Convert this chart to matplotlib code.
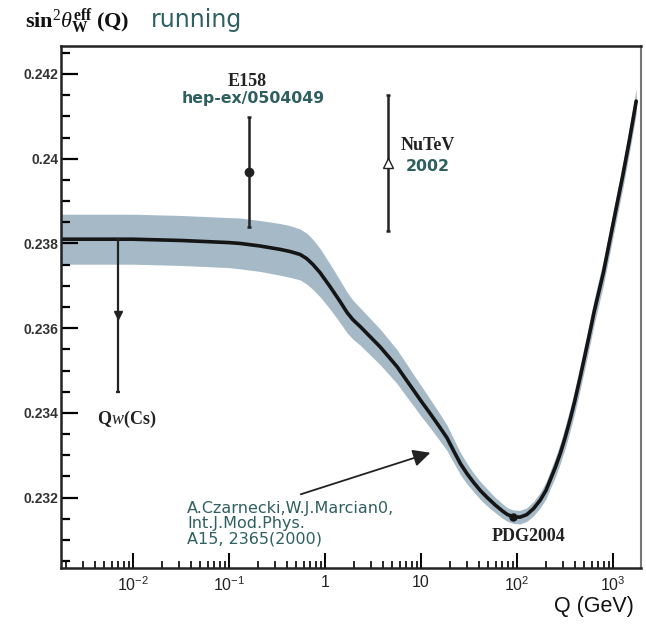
import numpy as np
import matplotlib
matplotlib.use("Agg")
import matplotlib.pyplot as plt
import matplotlib.ticker as ticker

plt.rcParams['mathtext.fontset'] = 'custom'
plt.rcParams['mathtext.rm'] = 'Liberation Serif'
plt.rcParams['mathtext.it'] = 'Liberation Serif:italic'
plt.rcParams['mathtext.bf'] = 'Liberation Serif:bold'
plt.rcParams['mathtext.sf'] = 'Liberation Sans'

# running sin^2 theta_W curve (log10 Q, value)
logq = [-2.75, -2.0, -1.5, -1.0, -0.885, -0.677, -0.469, -0.365, -0.26, -0.19,
        -0.125, -0.052, 0.052, 0.156, 0.229, 0.29, 0.365, 0.469, 0.573, 0.66,
        0.75, 0.83, 0.92, 1.0, 1.09, 1.18, 1.27, 1.34, 1.41, 1.48, 1.55, 1.62,
        1.69, 1.77, 1.85, 1.90, 1.96, 2.03, 2.10, 2.17, 2.24, 2.30, 2.35, 2.40,
        2.45, 2.50, 2.55, 2.60, 2.66, 2.71, 2.76, 2.80, 2.85, 2.90, 2.94, 3.02,
        3.10, 3.17, 3.24]
s2w = [0.23810, 0.23810, 0.23807, 0.23802, 0.23800, 0.23794, 0.23786, 0.23781,
       0.23774, 0.23764, 0.23750, 0.23731, 0.23698, 0.23663, 0.23637, 0.23620,
       0.23604, 0.23580, 0.23556, 0.23533, 0.23509, 0.23483, 0.23454, 0.23428,
       0.23400, 0.23371, 0.23341, 0.23310, 0.23280, 0.23256, 0.23235, 0.23216,
       0.23200, 0.23183, 0.23168, 0.23160, 0.23155, 0.23154, 0.23160, 0.23174,
       0.23194, 0.23217, 0.23245, 0.23273, 0.23305, 0.23342, 0.23383, 0.23428,
       0.23488, 0.23540, 0.23593, 0.23637, 0.23685, 0.23733, 0.23779, 0.23870,
       0.23960, 0.24045, 0.24136]
# half width of the theory band
band = [0.00059, 0.00059, 0.00059, 0.00059, 0.00060, 0.00060, 0.00061, 0.00061,
        0.00060, 0.00060, 0.00059, 0.00057, 0.00053, 0.00050, 0.00048, 0.00046,
        0.00044, 0.00043, 0.00042, 0.00041, 0.00040, 0.00039, 0.00037, 0.00036,
        0.00034, 0.00032, 0.00030, 0.00028, 0.00026, 0.00024, 0.00022, 0.00021,
        0.00020, 0.00018, 0.00017, 0.00016, 0.00016, 0.00016, 0.00016, 0.00017,
        0.00018, 0.00020, 0.00021, 0.00023, 0.00024, 0.00026, 0.00027, 0.00028,
        0.00029, 0.00030, 0.00030, 0.00030, 0.00030, 0.00030, 0.00030, 0.00030,
        0.00030, 0.00030, 0.00030]

# measurements
e158_q, e158_v, e158_err = 0.16, 0.23968, 0.0013
nutev_q, nutev_v, nutev_err = 4.5, 0.23990, 0.0016
qw_q, qw_v, qw_err = 0.007, 0.23630, 0.0018
pdg_q, pdg_v = 91.2, 0.23155

teal = '#2f5f60'
serif = 'Liberation Serif'
sans = 'Liberation Sans'

q = 10 ** np.array(logq)
y = np.array(s2w)
hw = np.array(band)

fig = plt.figure(figsize=(6.46, 6.36), dpi=100)
ax = fig.add_axes([0.0944, 0.1069, 0.8979, 0.8208])

ax.fill_between(q, y - hw, y + hw, color='#a5b9c7', lw=0, zorder=1)
ax.plot(q, y, color='#151515', lw=2.6, zorder=2, solid_capstyle='round')

ax.errorbar([e158_q], [e158_v], yerr=[e158_err], fmt='o', color='#222222',
            ms=6, elinewidth=1.8, capsize=1.5, capthick=1.8, zorder=3)
ax.errorbar([nutev_q], [nutev_v], yerr=[nutev_err], fmt='^', color='#222222',
            mfc='white', mec='#222222', ms=7, elinewidth=1.8, capsize=1.5,
            capthick=1.8, zorder=3)
ax.errorbar([qw_q], [qw_v], yerr=[qw_err], fmt='v', color='#222222',
            ms=6, elinewidth=1.6, capsize=1.5, capthick=1.6, zorder=3)
ax.plot([pdg_q], [pdg_v], 'o', color='#151515', ms=5, zorder=4)

ax.annotate('', xy=(13.3, 0.23308), xytext=(0.524, 0.23206),
            arrowprops=dict(arrowstyle='-|>', color='#222222', lw=1.3,
                            mutation_scale=26))

ax.text(0.154, 0.24183, 'E158', family=serif, weight='bold', fontsize=13,
        ha='center', va='center', color='#222222')
ax.text(0.178, 0.24143, 'hep-ex/0504049', family='DejaVu Sans', weight='bold',
        fontsize=11.3, ha='center', va='center', color=teal)
ax.text(11.8, 0.24030, 'NuTeV', family=serif, weight='bold', fontsize=13,
        ha='center', va='center', color='#222222')
ax.text(11.6, 0.23982, '2002', family='DejaVu Sans', weight='bold',
        fontsize=11.3, ha='center', va='center', color=teal)
ax.text(0.0086, 0.23384, 'Q$\\it{w}$(Cs)', family=serif, weight='bold',
        fontsize=13, ha='center', va='center', color='#222222')
ax.text(130, 0.23108, 'PDG2004', family=serif, weight='bold', fontsize=13,
        ha='center', va='center', color='#222222')
ax.text(0.0365, 0.23192, 'A.Czarnecki,W.J.Marcian0,\nInt.J.Mod.Phys.\nA15, 2365(2000)',
        family='DejaVu Sans', fontsize=11.5, ha='left', va='top', color=teal,
        linespacing=1.0)

ax.set_xscale('log')
ax.set_xlim(10 ** -2.75, 10 ** 3.29)
ax.set_ylim(0.23034, 0.24266)

ax.set_xticks([1e-2, 1e-1, 1, 10, 1e2, 1e3])
ax.set_xticklabels(['$\\mathsf{10^{-2}}$', '$\\mathsf{10^{-1}}$', '1', '10',
                    '$\\mathsf{10^{2}}$', '$\\mathsf{10^{3}}$'],
                   family=sans, fontsize=11.5, color='#222222')
ax.xaxis.set_minor_locator(ticker.LogLocator(base=10, subs=np.arange(2, 10), numticks=20))
ax.xaxis.set_minor_formatter(ticker.NullFormatter())

ax.set_yticks([0.232, 0.234, 0.236, 0.238, 0.24, 0.242])
ax.set_yticklabels(['0.232', '0.234', '0.236', '0.238', '0.24', '0.242'],
                   family=sans, weight='bold', fontsize=10, color='#333333')
ax.yaxis.set_minor_locator(ticker.MultipleLocator(0.0005))

ax.tick_params(axis='x', which='major', direction='in', length=11, width=1.4, pad=5)
ax.tick_params(axis='x', which='minor', direction='in', length=5, width=1.2)
ax.tick_params(axis='y', which='major', direction='in', length=12, width=1.6, pad=2)
ax.tick_params(axis='y', which='minor', direction='in', length=6.5, width=1.6)

for side in ['left', 'bottom', 'top']:
    ax.spines[side].set_linewidth(1.8)
    ax.spines[side].set_color('#222222')
ax.spines['right'].set_linewidth(1.5)
ax.spines['right'].set_color('#777777')

fig.text(0.038, 0.965, '$\\mathbf{sin}^{2}\\theta_{\\mathbf{W}}^{\\mathbf{eff}}\\ \\mathbf{(Q)}$',
         fontsize=16, ha='left', va='center', color='#111111')
fig.text(0.233, 0.969, 'running', family='DejaVu Sans', fontsize=17,
         ha='left', va='center', color=teal)
fig.text(0.982, 0.046, 'Q (GeV)', family=sans, fontsize=15.5, ha='right',
         va='center', color='#111111')

fig.savefig('out.png', dpi=100)
